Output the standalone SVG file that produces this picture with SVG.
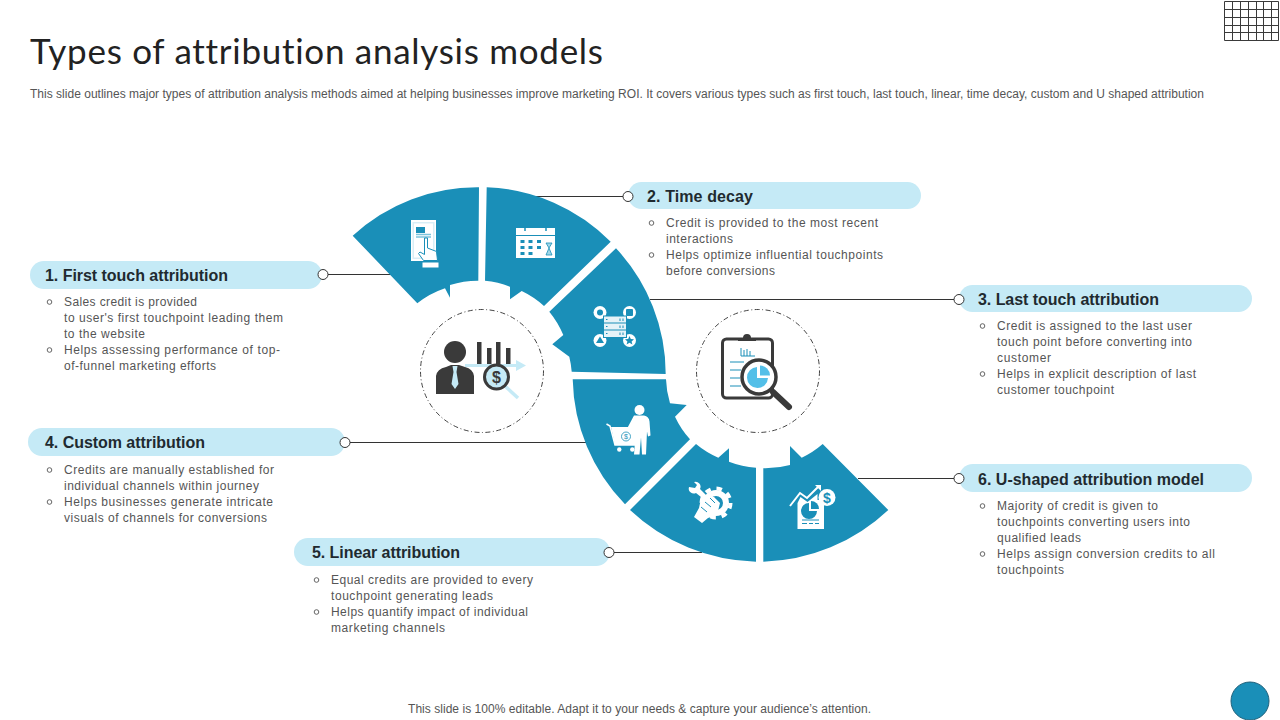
<svg xmlns="http://www.w3.org/2000/svg" width="1280" height="720" viewBox="0 0 1280 720">
<style>
text{font-family:"Liberation Sans",Arial,sans-serif}
.title{font-family:Lato,"Liberation Sans",sans-serif;font-size:35px;fill:#222;font-variant-ligatures:none}
.sub{font-size:12px;fill:#555}
.h{font-size:16px;font-weight:bold;fill:#1f2a30}
.b{font-size:12px;fill:#555}
.pill{fill:#c5eaf6}
.seg{fill:#1a8fb8}
.dot{fill:#fff;stroke:#333;stroke-width:1}
.bul{fill:none;stroke:#555;stroke-width:.9}
.ln{fill:none;stroke:#333;stroke-width:1}
.w{fill:#fff}
.wl{fill:none;stroke:#fff}
.sb{fill:none;stroke:#1a8fb8}
.sf{fill:#1a8fb8}
.d{fill:#3a3a3a}
.dl{fill:none;stroke:#3a3a3a}
.lb{fill:#c5eaf6}
.dash{fill:#fff;stroke:#444;stroke-width:1;stroke-dasharray:5 2.5 1 2.5}
</style>
<rect width="1280" height="720" fill="#fff"/>
<text class="title" x="30" y="64" textLength="573">Types of attribution analysis models</text>
<text class="sub" x="30" y="98" textLength="1174">This slide outlines major types of attribution analysis methods aimed at helping businesses improve marketing ROI. It covers various types such as first touch, last touch, linear, time decay, custom and U shaped attribution</text>
<g id="grid" class="dl" stroke-width="1">
<path d="M1224.500 1.500H1278.500V40.500H1224.500ZM1224.500 9.500H1278.500M1224.500 17.500H1278.500M1224.500 25.500H1278.500M1224.500 32.500H1278.500M1232.500 1.500V40.500M1240.500 1.500V40.500M1248.500 1.500V40.500M1256.500 1.500V40.500M1263.500 1.500V40.500M1271.500 1.500V40.500"/>
</g>

<g id="connectors" class="ln">
<path d="M328 274.500H392"/>
<path d="M533 196.500H623"/>
<path d="M650 299.500H954"/>
<path d="M350 442.500H587"/>
<path d="M614 552.500H702"/>
<path d="M858 478.500H954"/>
</g>

<g id="hub-left">
<circle class="dash" cx="482" cy="371" r="61.500"/>
<circle class="d" cx="455" cy="352" r="11"/>
<path class="d" d="M436 394V376Q437 369 446 367L451 365H459L465 367Q473 369 474 376V394Z"/>
<path class="lb" d="M452.500 366H457.500L456.500 372L458.500 384L455 389L451.500 384L453.500 372Z"/>
<path class="d" d="M477 342h4.500v22H477ZM487 348h4.500v16H487ZM496 342h4.500v22H496ZM506 348h4.500v16H506Z"/>
<path class="lb" d="M465 364H516V360L526 365.500L516 371V367H465Z"/>
<path d="M505 386L518 398" stroke="#c5eaf6" stroke-width="3.500" fill="none"/>
<circle cx="496.500" cy="377" r="12" fill="#c5eaf6" stroke="#3a3a3a" stroke-width="3"/>
<text x="496.500" y="383" font-size="16" font-weight="bold" text-anchor="middle" fill="#3a3a3a">$</text>
</g>

<g id="hub-right">
<circle class="dash" cx="758" cy="371" r="61.500"/>
<rect class="dl" stroke-width="3" x="722.500" y="339" width="50" height="59" rx="4" fill="#fff"/>
<path class="d" d="M738 340a3 3 0 0 1 3-2l2 0a4 4 0 0 1 8 0l2 0a3 3 0 0 1 3 2v1h-18Z"/>
<path d="M741 348v8M741 356h14" stroke="#1a8fb8" fill="none"/>
<path d="M744 356v-6M747 356v-7M750 356v-5" stroke="#1a8fb8" fill="none"/>
<path d="M730 362h14M730 370h11M730 378h10M730 386h11" stroke="#1a8fb8" fill="none"/>
<path d="M773 392L789 407" stroke="#3a3a3a" stroke-width="6" stroke-linecap="round" fill="none"/>
<circle cx="759" cy="377" r="17" fill="#fff" stroke="#3a3a3a" stroke-width="3.500"/>
<path d="M757 367v11h11a10.500 10.500 0 1 1-11-11Z" fill="#53bfe8"/>
<path d="M760 365.500a10 10 0 0 1 10 10h-10Z" fill="#53bfe8"/>
</g>

<g id="node-first-icon">
<path class="seg" d="M479 187.300A184 184 0 0 0 352.700 235.700L417.300 303.300A92 92 0 0 1 445 288.300L450 297.700V285A92 92 0 0 1 478.300 280.700Z"/>
<rect class="w" x="411" y="220" width="25" height="41"/>
<rect x="412.500" y="222" width="22" height="37" fill="#d8eef6"/>
<rect class="w" x="414" y="223.500" width="19" height="34"/>
<rect class="sf" x="416" y="227" width="9" height="6"/>
<path d="M416 234.500h15M416 237h15" stroke="#7cc4dc" stroke-width="1.500" fill="none"/>
<path d="M424.500 238h3v10l9 3.500 1 9h-14l-5-7 1.500-1.500 4.500 2.500Z" fill="#fff" stroke="#1a8fb8" stroke-width="1"/>
<rect class="w" x="422.500" y="262.500" width="16" height="5"/>
</g>

<g id="node-time-decay-icon">
<path class="seg" d="M486.700 187.300A184 184 0 0 1 610.700 241.700L544 306A92 92 0 0 0 521.700 291L510 299.300V286.700A92 92 0 0 0 485 280.700Z"/>
<rect class="w" x="516" y="228" width="39" height="30"/>
<path class="sb" d="M516 235.500H555" stroke-width="1"/>
<path d="M525 226v5M546 226v5" stroke="#1a8fb8" stroke-width="1.500"/>
<path class="sf" d="M520.500 240h4v3h-4ZM528.500 240h4v3h-4ZM537 240h4v3h-4ZM520.500 246h4v3h-4ZM528.500 246h4v3h-4ZM537 246h4v3h-4ZM520.500 252h4v3h-4ZM528.500 252h4v3h-4Z"/>
<path d="M546 243h6l-3 5 3 7h-6l3-7Z" fill="#9fd6e8" stroke="#1a8fb8" stroke-width=".8"/>
</g>

<g id="node-last-touch-icon">
<path class="seg" d="M616 248.300A184 184 0 0 1 665.700 374L571.700 371.700A92 92 0 0 0 569.300 356.700L552.300 344.300L563.300 335A92 92 0 0 0 549.300 311.700Z"/>
<circle cx="600" cy="312.500" r="6.500" class="w"/><circle class="sf" cx="600" cy="312.500" r="3"/>
<circle cx="629.500" cy="312.500" r="6.500" class="w"/><rect class="sf" x="626" y="309" width="7" height="7" rx="1"/>
<circle cx="600" cy="340.500" r="6.500" class="w"/><path class="sf" d="M600 336.500l4 6.500h-8Z"/>
<circle cx="629.500" cy="340.500" r="6.500" class="w"/><path class="sf" d="M629.500 336l1.300 3 3.200.3-2.400 2.100.8 3.100-2.900-1.700-2.900 1.700.8-3.100-2.400-2.100 3.200-.3Z"/>
<rect x="603.500" y="316" width="23" height="21.500" fill="#e5f3f8" stroke="#1a8fb8" stroke-width="1"/>
<path d="M604 323h22M604 330h22" stroke="#1a8fb8" stroke-width="1"/>
<path d="M606 319.500h1.500M606 326.500h1.500M606 333.500h1.500M620 318.500v2.500M623 318.500v2.500M620 325.500v2.500M623 325.500v2.500M620 332.500v2.500M623 332.500v2.500" stroke="#1a8fb8" stroke-width="1"/>
</g>

<g id="node-custom-icon">
<path class="seg" d="M572.700 379.300H666A92 92 0 0 0 670 403.300L686.700 405L675 416.700A92 92 0 0 0 690 439.300L625 504.300A185 185 0 0 1 572.700 379.300Z"/>
<circle class="w" cx="639.500" cy="410" r="5"/>
<path class="w" d="M634 415.500h10q5 1 5.500 6l1 14-2.500 1-1-5-1 23h-4l-1-17-1.500 17h-5.500l2-27-9 6-1.500-2Z"/>
<path class="wl" stroke-width="1.500" d="M606.500 424l3.500 2 5 19h20"/>
<path d="M611 427h29l-5 18h-20Z" fill="#fff"/>
<circle class="sb" cx="626" cy="436.500" r="4.500" stroke-width=".8"/>
<text x="626" y="439" font-size="7" text-anchor="middle" fill="#1a8fb8">$</text>
<circle class="w" cx="619.300" cy="449.500" r="2.200"/><circle class="w" cx="632.300" cy="449.500" r="2.200"/>
</g>

<g id="node-linear-icon">
<path class="seg" d="M696 444A92 92 0 0 0 718.300 457.700L729 448.300V461.700A92 92 0 0 0 756 467.700V561.700A190 190 0 0 1 630 510Z"/>
<circle cx="716" cy="503" r="10" fill="none" stroke="#fff" stroke-width="6"/>
<circle cx="716" cy="503" r="14.500" fill="none" stroke="#fff" stroke-width="4" stroke-dasharray="5.500 5.900"/>
<path class="w" d="M689 487a5 5 0 0 0 7 6l10 8 3-3-9-9a5 5 0 0 0-6-7l3 3-2 3Z"/>
<path class="w" d="M702 494l12 3 6 6-3 12-9 3-6 5-8-6 5-9Z"/>
<path d="M705 502l6 5M710 498l5 5M701 507l6 5" stroke="#1a8fb8" stroke-width="1"/>
</g>

<g id="node-ushaped-icon">
<path class="seg" d="M763.300 468.300A92 92 0 0 0 790 465V446L801.700 457.700A92 92 0 0 0 822.700 444L888.300 510A190 190 0 0 1 763.300 561.700Z"/>
<path class="w" d="M797.500 503l3-6 7 5 10-8v35h-20Z M817 500h7v29h-7Z"/>
<path class="wl" stroke-width="2" d="M790 506l10-13 7 5 12-12"/>
<path class="w" d="M815 485h6v6Z"/>
<path class="sf" d="M809 503v8h8a8 8 0 1 1-8-8Z"/>
<path class="sf" d="M811 501a8 8 0 0 1 8 8h-8Z"/>
<path d="M802 520h17M802 523.500h5M809 523.500h4M815 523.500h4" stroke="#1a8fb8" stroke-width="1"/>
<circle cx="827" cy="497.500" r="8.500" fill="#fff"/>
<text x="827" y="503" font-size="14" font-weight="bold" text-anchor="middle" fill="#1a8fb8">$</text>
</g>

<g id="node-1">
<rect class="pill" x="30" y="261" width="292" height="28" rx="14"/>
<circle class="dot" cx="323" cy="274.500" r="5"/>
<text class="h" x="45" y="281" textLength="183">1. First touch attribution</text>
<circle class="bul" cx="49.500" cy="302" r="2.300"/><circle class="bul" cx="49.500" cy="350" r="2.300"/>
<text class="b" x="64" y="306" textLength="133">Sales credit is provided</text>
<text class="b" x="64" y="322" textLength="219">to user's first touchpoint leading them</text>
<text class="b" x="64" y="338" textLength="81">to the website</text>
<text class="b" x="64" y="354" textLength="216">Helps assessing performance of top-</text>
<text class="b" x="64" y="370" textLength="152">of-funnel marketing efforts</text>
</g>

<g id="node-2">
<rect class="pill" x="628" y="182" width="293" height="27" rx="13.500"/>
<circle class="dot" cx="628" cy="196.500" r="5"/>
<text class="h" x="647" y="202" textLength="106">2. Time decay</text>
<circle class="bul" cx="651.500" cy="223" r="2.300"/><circle class="bul" cx="651.500" cy="255" r="2.300"/>
<text class="b" x="666" y="227" textLength="212">Credit is provided to the most recent</text>
<text class="b" x="666" y="243" textLength="67">interactions</text>
<text class="b" x="666" y="259" textLength="217">Helps optimize influential touchpoints</text>
<text class="b" x="666" y="275" textLength="109">before conversions</text>
</g>

<g id="node-3">
<rect class="pill" x="959" y="285" width="293" height="27" rx="13.500"/>
<circle class="dot" cx="959" cy="299.500" r="5"/>
<text class="h" x="978" y="305" textLength="181">3. Last touch attribution</text>
<circle class="bul" cx="982.500" cy="326" r="2.300"/><circle class="bul" cx="982.500" cy="374" r="2.300"/>
<text class="b" x="997" y="330" textLength="195">Credit is assigned to the last user</text>
<text class="b" x="997" y="346" textLength="195">touch point before converting into</text>
<text class="b" x="997" y="362" textLength="54">customer</text>
<text class="b" x="997" y="378" textLength="199">Helps in explicit description of last</text>
<text class="b" x="997" y="394" textLength="117">customer touchpoint</text>
</g>

<g id="node-4">
<rect class="pill" x="28" y="428" width="317" height="28" rx="14"/>
<circle class="dot" cx="345" cy="442.500" r="5"/>
<text class="h" x="45" y="448" textLength="160">4. Custom attribution</text>
<circle class="bul" cx="49.500" cy="470" r="2.300"/><circle class="bul" cx="49.500" cy="502" r="2.300"/>
<text class="b" x="64" y="474" textLength="210">Credits are manually established for</text>
<text class="b" x="64" y="490" textLength="195">individual channels within journey</text>
<text class="b" x="64" y="506" textLength="209">Helps businesses generate intricate</text>
<text class="b" x="64" y="522" textLength="203">visuals of channels for conversions</text>
</g>

<g id="node-5">
<rect class="pill" x="294" y="538" width="316" height="28" rx="14"/>
<circle class="dot" cx="609" cy="552.500" r="5"/>
<text class="h" x="312" y="558" textLength="148">5. Linear attribution</text>
<circle class="bul" cx="316.500" cy="580" r="2.300"/><circle class="bul" cx="316.500" cy="612" r="2.300"/>
<text class="b" x="331" y="584" textLength="202">Equal credits are provided to every</text>
<text class="b" x="331" y="600" textLength="162">touchpoint generating leads</text>
<text class="b" x="331" y="616" textLength="197">Helps quantify impact of individual</text>
<text class="b" x="331" y="632" textLength="114">marketing channels</text>
</g>

<g id="node-6">
<rect class="pill" x="959" y="464" width="293" height="28" rx="14"/>
<circle class="dot" cx="959" cy="478.500" r="5"/>
<text class="h" x="978" y="485" textLength="226">6. U-shaped attribution model</text>
<circle class="bul" cx="982.500" cy="506" r="2.300"/><circle class="bul" cx="982.500" cy="554" r="2.300"/>
<text class="b" x="997" y="510" textLength="161">Majority of credit is given to</text>
<text class="b" x="997" y="526" textLength="193">touchpoints converting users into</text>
<text class="b" x="997" y="542" textLength="84">qualified leads</text>
<text class="b" x="997" y="558" textLength="218">Helps assign conversion credits to all</text>
<text class="b" x="997" y="574" textLength="67">touchpoints</text>
</g>

<text class="sub" x="408" y="713" textLength="463">This slide is 100% editable. Adapt it to your needs &amp; capture your audience’s attention.</text>
<circle id="badge" cx="1250" cy="701" r="19" fill="#1a8fb8" stroke="#20607a" stroke-width="1"/>
</svg>
